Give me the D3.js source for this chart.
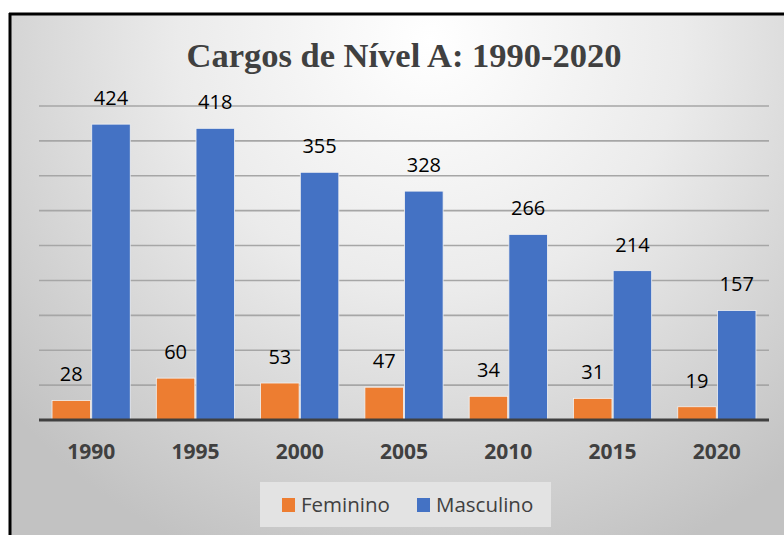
<!DOCTYPE html>
<html>
<head>
<meta charset="utf-8">
<script src="https://cdn.jsdelivr.net/npm/d3@7"></script>
<style>
  body { margin: 0; background: #fff; }
  svg { display: block; }
</style>
</head>
<body>
<div id="chart"></div>
<script>
// data
const years = ["1990", "1995", "2000", "2005", "2010", "2015", "2020"];
const seriesNames = ["Feminino", "Masculino"];
const feminino = [28, 60, 53, 47, 34, 31, 19];
const masculino = [424, 418, 355, 328, 266, 214, 157];
const colors = ["#ed7d31", "#4472c4"];

const W = 784, H = 535;
const plot = { left: 39, right: 769, top: 106, bottom: 420 };

const svg = d3.select("#chart").append("svg")
  .attr("width", W).attr("height", H);

// background gradient (white near top centre, grey towards edges)
const defs = svg.append("defs");
const grad = defs.append("radialGradient")
  .attr("id", "bg")
  .attr("gradientUnits", "userSpaceOnUse")
  .attr("cx", 430).attr("cy", 40).attr("r", 560);
grad.append("stop").attr("offset", "0%").attr("stop-color", "#ffffff");
grad.append("stop").attr("offset", "45%").attr("stop-color", "#ebebeb");
grad.append("stop").attr("offset", "100%").attr("stop-color", "#c2c2c2");

svg.append("rect")
  .attr("x", 10).attr("y", 14).attr("width", W - 10).attr("height", H - 14)
  .attr("fill", "url(#bg)");

// frame (top and left edges visible)
svg.append("line").attr("x1", 9).attr("x2", W).attr("y1", 14).attr("y2", 14)
  .attr("stroke", "#000").attr("stroke-width", 3);
svg.append("line").attr("x1", 10).attr("x2", 10).attr("y1", 13).attr("y2", H)
  .attr("stroke", "#000").attr("stroke-width", 3);

// title
svg.append("text")
  .attr("x", 404).attr("y", 67)
  .attr("text-anchor", "middle")
  .attr("font-family", "'Liberation Serif', 'Times New Roman', serif")
  .attr("font-weight", "bold")
  .attr("font-size", 34.5)
  .attr("fill", "#404040")
  .text("Cargos de Nível A: 1990-2020");

// scales
const x0 = d3.scaleBand().domain(years)
  .range([plot.left, plot.right])
  .paddingInner(0.25).paddingOuter(0.125);
const x1 = d3.scaleBand().domain(seriesNames)
  .range([0, x0.bandwidth()])
  .paddingInner(0.03);
const y = d3.scaleLinear().domain([0, 450]).range([plot.bottom, plot.top]);

// gridlines
svg.append("g")
  .selectAll("line")
  .data(y.ticks(9).filter(d => d > 0))
  .join("line")
  .attr("x1", plot.left).attr("x2", plot.right)
  .attr("y1", d => y(d)).attr("y2", d => y(d))
  .attr("stroke", "#a6a6a6").attr("stroke-width", 1.6);

// bars
const rows = years.map((yr, i) => ({ year: yr, values: [feminino[i], masculino[i]] }));
const groups = svg.append("g").selectAll("g")
  .data(rows)
  .join("g")
  .attr("transform", d => `translate(${x0(d.year)},0)`);

groups.selectAll("rect")
  .data(d => d.values.map((v, k) => ({ key: seriesNames[k], value: v, k: k })))
  .join("rect")
  .attr("x", d => x1(d.key))
  .attr("y", d => y(d.value))
  .attr("width", x1.bandwidth())
  .attr("height", d => y(0) - y(d.value))
  .attr("fill", d => colors[d.k])
  .attr("stroke", "#f2f2f2").attr("stroke-width", 0.8);

// data labels
groups.selectAll("text")
  .data(d => d.values.map((v, k) => ({ key: seriesNames[k], value: v })))
  .join("text")
  .attr("x", d => x1(d.key) + x1.bandwidth() / 2)
  .attr("y", d => y(d.value) - 19)
  .attr("text-anchor", "middle")
  .attr("font-family", "'Open Sans', sans-serif")
  .attr("font-size", 20)
  .attr("fill", "#000")
  .text(d => d.value);

// baseline
svg.append("line")
  .attr("x1", plot.left).attr("x2", plot.right)
  .attr("y1", y(0)).attr("y2", y(0))
  .attr("stroke", "#404040").attr("stroke-width", 3);

// x axis labels
const xAxis = svg.append("g")
  .attr("transform", `translate(0,${plot.bottom})`)
  .call(d3.axisBottom(x0).tickSize(0).tickPadding(0));
xAxis.select(".domain").remove();
xAxis.selectAll("text")
  .attr("dy", null)
  .attr("y", 39)
  .attr("font-family", "'Open Sans', sans-serif")
  .attr("font-weight", "bold")
  .attr("font-size", 21)
  .attr("fill", "#404040");

// legend
const legend = svg.append("g");
legend.append("rect")
  .attr("x", 260).attr("y", 482).attr("width", 291).attr("height", 45)
  .attr("fill", "#e3e3e3");
const legendX = [282, 417];
const items = legend.selectAll("g.item")
  .data(seriesNames)
  .join("g")
  .attr("class", "item")
  .attr("transform", (d, i) => `translate(${legendX[i]},0)`);
items.append("rect")
  .attr("x", 0).attr("y", 498).attr("width", 13).attr("height", 14)
  .attr("fill", (d, i) => colors[i]);
items.append("text")
  .attr("x", 19).attr("y", 512)
  .attr("font-family", "'Open Sans', sans-serif")
  .attr("font-size", 20.5)
  .attr("fill", "#404040")
  .text(d => d);
</script>
</body>
</html>
